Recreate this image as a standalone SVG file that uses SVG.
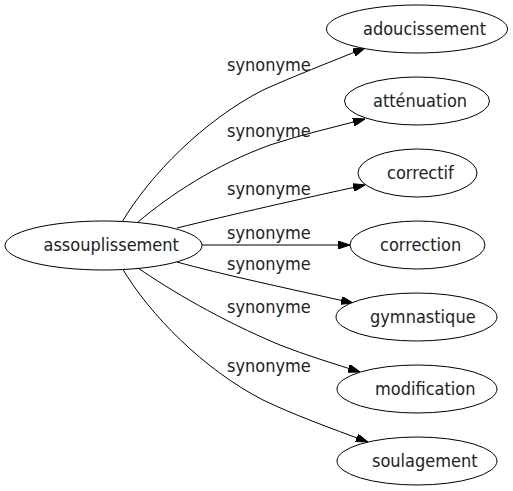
<svg xmlns="http://www.w3.org/2000/svg" width="513" height="491" viewBox="0 0 513 491">
<style>
  .node ellipse { fill: #ffffff; stroke: #000000; stroke-width: 1; }
  .node text, .lbl { font-family: "DejaVu Sans Condensed", "DejaVu Sans", sans-serif; font-stretch: condensed; font-size: 18px; fill: #222222; }
  .edge { fill: none; stroke: #000000; stroke-width: 1; marker-end: url(#arrow); }
</style>
<defs>
  <marker id="arrow" viewBox="0 0 12 8" refX="12" refY="4" markerWidth="12" markerHeight="8" markerUnits="userSpaceOnUse" orient="auto">
    <path d="M0,0 L12,4 L0,8 Z" fill="#000000" stroke="#000000" stroke-width="1"/>
  </marker>
</defs>
<rect width="513" height="491" fill="#ffffff"/>
<g id="connectors">
  <path class="edge" d="M122,222 C150,175 203,121 263,90 C292,77 330,62 365,48"/>
  <path class="edge" d="M138,222 C170,195 215,165 270,145 C300,135 335,127 365,119"/>
  <path class="edge" d="M177,228 C230,215 300,199 365,185"/>
  <path class="edge" d="M202,245 L350,245"/>
  <path class="edge" d="M177,262 C220,274 290,289 353,303"/>
  <path class="edge" d="M138,268 C170,290 220,320 280,345 C305,355 335,364 360,372"/>
  <path class="edge" d="M122,268 C150,315 203,369 263,400 C292,414 330,428 368,442"/>
  <text class="lbl" x="227" y="70.5">synonyme</text>
  <text class="lbl" x="227" y="136.5">synonyme</text>
  <text class="lbl" x="227" y="195">synonyme</text>
  <text class="lbl" x="227" y="239">synonyme</text>
  <text class="lbl" x="227" y="270">synonyme</text>
  <text class="lbl" x="227" y="313">synonyme</text>
  <text class="lbl" x="227" y="371.5">synonyme</text>
</g>
<g id="assouplissement" class="node">
  <ellipse cx="103.5" cy="245.5" rx="98.5" ry="24.5"/>
  <text x="43.5" y="251">assouplissement</text>
</g>
<g id="adoucissement" class="node">
  <ellipse cx="417" cy="29" rx="90.5" ry="24"/>
  <text x="363" y="34.5">adoucissement</text>
</g>
<g id="attenuation" class="node">
  <ellipse cx="417" cy="101" rx="72.5" ry="24"/>
  <text x="373" y="106.5">atténuation</text>
</g>
<g id="correctif" class="node">
  <ellipse cx="417.5" cy="173" rx="59.5" ry="24"/>
  <text x="387" y="178.5">correctif</text>
</g>
<g id="correction" class="node">
  <ellipse cx="417.5" cy="245" rx="67.5" ry="24"/>
  <text x="380" y="250.5">correction</text>
</g>
<g id="gymnastique" class="node">
  <ellipse cx="416.5" cy="317" rx="80.5" ry="24"/>
  <text x="370" y="322.5">gymnastique</text>
</g>
<g id="modification" class="node">
  <ellipse cx="417" cy="389" rx="80" ry="24"/>
  <text x="375" y="394.5">modification</text>
</g>
<g id="soulagement" class="node">
  <ellipse cx="417" cy="461" rx="80" ry="24"/>
  <text x="372" y="466.5">soulagement</text>
</g>
</svg>
